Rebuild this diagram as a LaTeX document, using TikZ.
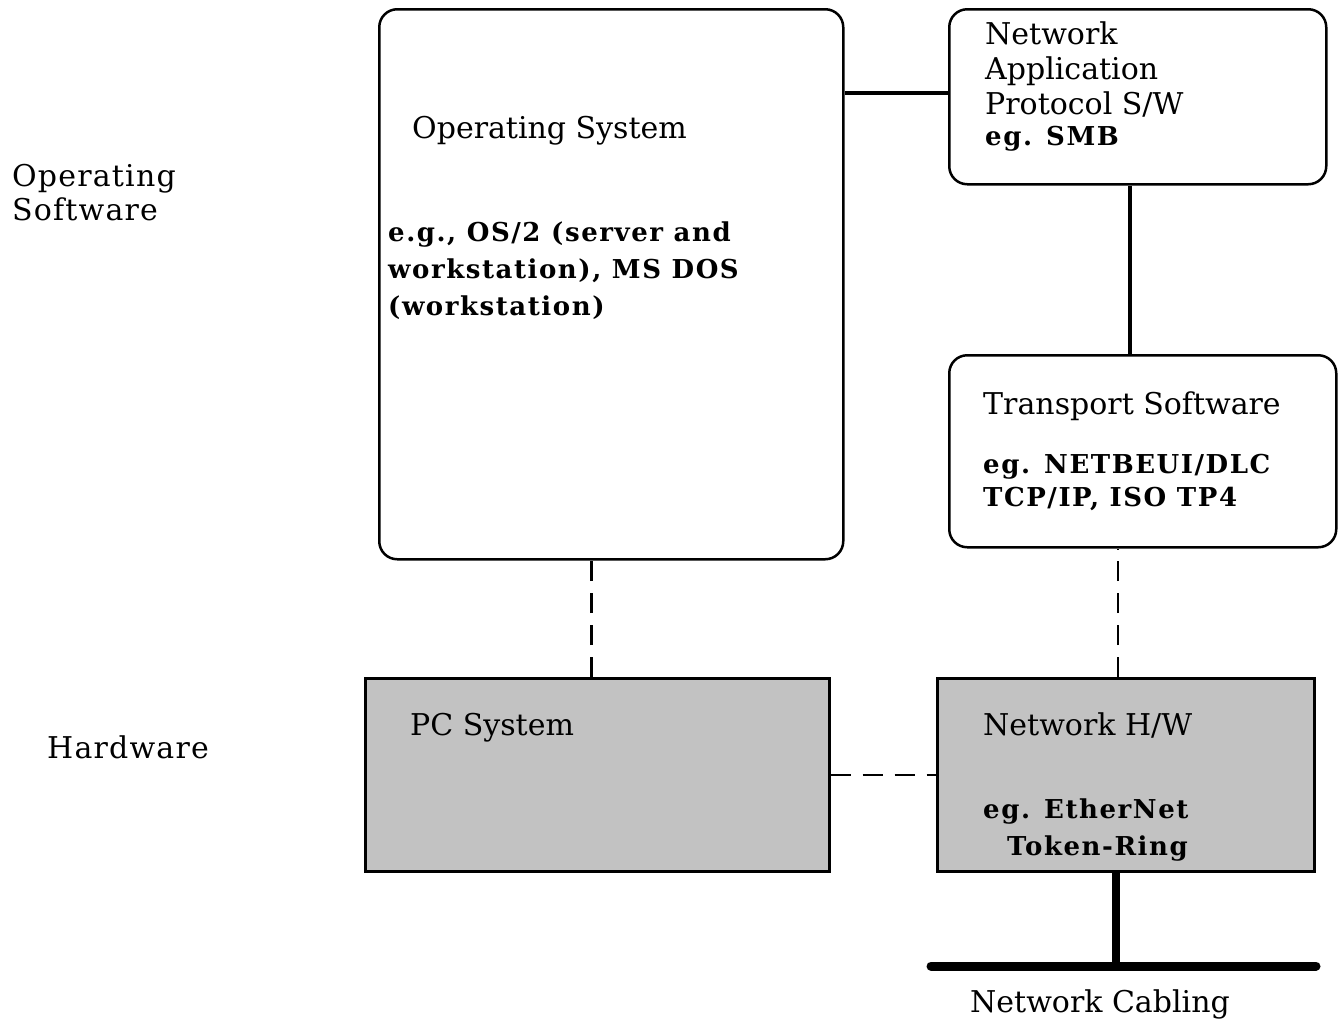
\documentclass[tikz,border=0pt]{standalone}
\usepackage{fontspec}
\setmainfont{DejaVu Serif}
\newfontfamily\spacedfont[LetterSpace=6]{DejaVu Serif}
\newfontfamily\spacedlabel[LetterSpace=4]{DejaVu Serif}
\begin{document}
\begin{tikzpicture}[x=1pt,y=-1pt,
  rbox/.style={draw, line width=2.5pt, rounded corners=18pt, anchor=north west, inner sep=0pt},
  hwbox/.style={draw, line width=2.5pt, fill=black!24, anchor=north west, inner sep=0pt},
  txt/.style={anchor=base west, inner sep=0pt, font=\fontsize{30}{36}\selectfont},
  btxt/.style={anchor=base west, inner sep=0pt, font=\fontsize{26}{32}\selectfont\spacedfont\bfseries},
  sidetxt/.style={anchor=base west, inner sep=0pt, font=\fontsize{30}{36}\selectfont\spacedlabel},
  solidlink/.style={line width=4pt},
  dashlink/.style={line width=2.5pt, dash pattern=on 20pt off 12pt},
  cable/.style={line width=9pt, line cap=round}]
\useasboundingbox (0,0) rectangle (1341,1026);

% boxes
\node[rbox, minimum width=464pt, minimum height=550pt] (os) at (378,8) {};
\node[rbox, minimum width=377pt, minimum height=175pt] (nap) at (948,8) {};
\node[rbox, minimum width=387pt, minimum height=192pt] (tr) at (948,354) {};
\node[hwbox, minimum width=464pt, minimum height=193pt] (pc) at (364,677) {};
\node[hwbox, minimum width=377pt, minimum height=193pt] (nhw) at (936,677) {};

% cabling
\coordinate (cabL) at (931,966);
\coordinate (cabR) at (1316,966);
\draw[cable] (cabL) -- (cabR);

% connectors
\draw[solidlink] ([yshift=4pt]nap.west) -- ([yshift=4pt]nap.west -| os.east);
\draw[solidlink] ([xshift=-8pt]nap.south) -- ([xshift=-8pt]nap.south |- tr.north);
\draw[dashlink] ([xshift=-6pt]pc.north) -- ([xshift=-6pt]pc.north |- os.south);
\draw[dashlink] ([xshift=-8pt]nhw.north) -- ([xshift=-8pt]nhw.north |- tr.south);
\draw[dashlink] (pc.east) -- (nhw.west);
\draw[line width=8pt] ([xshift=-10pt]nhw.south) -- ([xshift=-10pt]nhw.south |- cabL);

% side labels
\node[sidetxt] (ol1) at (12,186) {Operating};
\node[sidetxt] (ol2) at (12,220) {Software};
\node[sidetxt] (hl) at (47,758) {Hardware};

% OS text
\node[txt] (ost) at (412,138) {Operating System};
\node[btxt] (os1) at (388,241) {e.g., OS/2 (server and};
\node[btxt] (os2) at (388,278) {workstation), MS DOS};
\node[btxt] (os3) at (388,315) {(workstation)};

% NAP text
\node[txt] (n1) at (985,44) {Network};
\node[txt] (n2) at (985,79) {Application};
\node[txt] (n3) at (985,114) {Protocol S/W};
\node[btxt] (n4) at (985,145) {eg. SMB};

% Transport text
\node[txt] (t1) at (983,414) {Transport Software};
\node[btxt] (t2) at (983,473) {eg. NETBEUI/DLC};
\node[btxt] (t3) at (983,506) {TCP/IP, ISO TP4};

% hardware text
\node[txt] (pct) at (410,735) {PC System};
\node[txt] (h1) at (983,735) {Network H/W};
\node[btxt] (h2) at (983,818) {eg. EtherNet};
\node[btxt] (h3) at (1007,855) {Token-Ring};

% cabling label
\node[txt, anchor=base] (cl) at (1100,1012) {Network Cabling};
\end{tikzpicture}
\end{document}
